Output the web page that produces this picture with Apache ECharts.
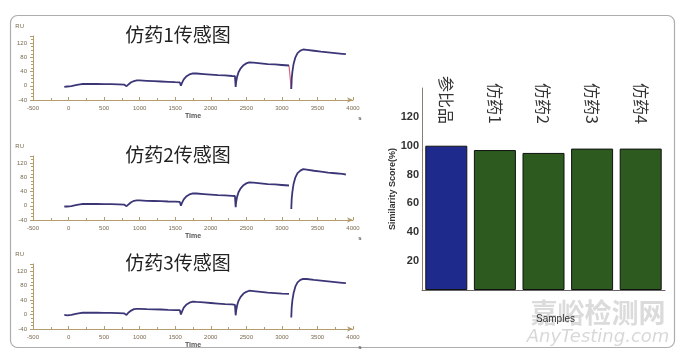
<!DOCTYPE html>
<html>
<head>
<meta charset="utf-8">
<style>
  html, body { margin: 0; padding: 0; background: #fff; }
  #chart { width: 680px; height: 354px; }
</style>
<script src="https://cdn.jsdelivr.net/npm/echarts@6/dist/echarts.min.js"></script>
</head>
<body>
<div id="chart"></div>
<script>
// sensorgram traces: [time (s), response (RU)]
// '-' breaks the line where the trace is not drawn
var trace1 = [
  [-60, -3], [-20, -2], [0, -2], [40, -1], [100, 2], [160, 4], [200, 5], [300, 5], [400, 5],
  [500, 4.5], [600, 4.5], [700, 4], [780, 3.5], [800, 0], [815, -1], [840, 4], [880, 10],
  [920, 13], [960, 15], [1000, 15], [1100, 14], [1200, 13], [1300, 12], [1400, 11],
  [1500, 10], [1565, 9.5], [1580, 0], [1595, 8], [1620, 18], [1660, 27], [1700, 32],
  [1750, 35], [1800, 34.5], [1900, 33], [2000, 31.5], [2100, 30], [2200, 29], [2300, 27.5],
  [2340, 27], [2350, -3], [2358, 12], [2370, 25], [2390, 38], [2420, 49], [2460, 58],
  [2500, 63], [2540, 66], [2600, 65], [2700, 63], [2800, 61], [2900, 60], [3000, 58.5],
  [3100, 57], [3120, '-'], [3132, -9], [3138, 20], [3148, 40], [3165, 62], [3190, 80],
  [3220, 92], [3260, 99], [3300, 102], [3350, 101], [3450, 98.5], [3550, 96], [3650, 94],
  [3750, 92], [3850, 90], [3900, 89]
];
var trace1Red = [[3100, 57], [3125, 56], [3132, -9], [3136, 10]];
var trace2 = [
  [-60, -2], [-20, -2], [0, -2], [40, -1], [100, 2], [160, 4], [200, 5], [300, 5], [400, 5],
  [500, 4.5], [600, 4.5], [700, 4], [780, 3.5], [800, 0], [815, -1], [840, 4], [880, 10],
  [920, 14], [960, 15], [1000, 15], [1100, 14], [1200, 13.5], [1300, 13], [1400, 12],
  [1500, 11.5], [1565, 11], [1580, 0], [1595, 8], [1620, 18], [1660, 27], [1700, 32],
  [1750, 35], [1800, 34.5], [1900, 33], [2000, 31.5], [2100, 30], [2200, 29], [2300, 28],
  [2340, 27.5], [2350, -4], [2358, 12], [2370, 25], [2390, 38], [2420, 49], [2460, 58],
  [2500, 63], [2540, 66], [2600, 65], [2700, 63], [2800, 61], [2900, 60], [3000, 58.5],
  [3100, 57], [3120, '-'], [3132, -9], [3138, 20], [3148, 40], [3165, 62], [3190, 80],
  [3220, 92], [3260, 99], [3300, 103], [3350, 101.5], [3450, 98.5], [3550, 96], [3650, 93.5],
  [3750, 91.5], [3850, 89.5], [3900, 88]
];
var trace3 = [
  [-60, -1], [-20, -2], [0, -2], [40, -1], [100, 2], [160, 4], [200, 5], [300, 5], [400, 5],
  [500, 4.5], [600, 4.5], [700, 4], [780, 3.5], [800, 0], [815, -1], [840, 5], [880, 11],
  [920, 15], [960, 16], [1000, 16], [1100, 15], [1200, 14.5], [1300, 14], [1400, 13],
  [1500, 12.5], [1565, 12], [1580, 0], [1595, 8], [1620, 19], [1660, 28], [1700, 33],
  [1750, 36], [1800, 35], [1900, 33.5], [2000, 32], [2100, 30.5], [2200, 29], [2300, 28],
  [2340, 27], [2350, -2], [2358, 12], [2370, 25], [2390, 38], [2420, 49], [2460, 58],
  [2500, 63], [2540, 66], [2600, 65], [2700, 63], [2800, 61], [2900, 59.5], [3000, 58],
  [3100, 57], [3120, '-'], [3132, -8], [3138, 20], [3148, 40], [3165, 60], [3190, 78],
  [3220, 89], [3260, 96], [3300, 99], [3350, 98.5], [3450, 96], [3550, 94], [3650, 92],
  [3750, 90], [3850, 88], [3900, 87]
];
var sensorTitles = ['仿药1传感图', '仿药2传感图', '仿药3传感图'];

// similarity bar chart
var samples = ['参比品', '仿药1', '仿药2', '仿药3', '仿药4'];
var scores = [100, 97, 95, 98, 98];

var axisColor = '#b39d6d';
var tickText = '#7a6a52';
var sensorGrids = [
  { left: 33, top: 36, width: 320, height: 64 },
  { left: 33, top: 156, width: 320, height: 64 },
  { left: 33, top: 264, width: 320, height: 65 }
];

var chart = echarts.init(document.getElementById('chart'));

var grids = sensorGrids.concat([{ left: 422, top: 88, width: 243, height: 202 }]);
var xAxes = [];
var yAxes = [];
var graphics = [];

sensorGrids.forEach(function (g, i) {
  xAxes.push({
    type: 'value', gridIndex: i, min: -500, max: 4000, interval: 500,
    name: 'Time', nameLocation: 'middle', nameGap: 13,
    nameTextStyle: { fontSize: 7, fontWeight: 'bold', color: '#555', fontFamily: 'Liberation Sans' },
    axisLine: { onZero: false, lineStyle: { color: axisColor }, symbol: ['none', 'arrow'], symbolSize: [4, 6] },
    axisTick: { inside: true, length: 3, lineStyle: { color: axisColor } },
    minorTick: { show: true, splitNumber: 2, length: 2, lineStyle: { color: axisColor } },
    axisLabel: {
      fontSize: 6, color: tickText, margin: 5, fontFamily: 'Liberation Sans',
      formatter: function (v) { return String(v); }
    },
    splitLine: { show: false }
  });
  yAxes.push({
    type: 'value', gridIndex: i, min: -40, max: 140, interval: 40,
    name: 'RU', nameLocation: 'end', nameGap: 7,
    nameTextStyle: { fontSize: 6, color: tickText, align: 'right', padding: [0, 9, 0, 0] },
    axisLine: { show: true, onZero: false, lineStyle: { color: axisColor } },
    axisTick: { show: true, inside: false, length: 3, lineStyle: { color: axisColor } },
    minorTick: { show: true, splitNumber: 4, length: 2, lineStyle: { color: axisColor } },
    axisLabel: { fontSize: 6, color: tickText, margin: 6, showMaxLabel: false, fontFamily: 'Liberation Sans' },
    splitLine: { show: false }
  });
  graphics.push({
    type: 'text', x: 178, y: g.top - 1,
    style: { text: sensorTitles[i], font: '19px "Noto Sans CJK SC"', fill: '#222', textAlign: 'center', textVerticalAlign: 'middle' }
  });
  graphics.push({
    type: 'text', x: 360, y: g.top + g.height + 18,
    style: { text: 's', font: 'bold 6px "Liberation Sans"', fill: '#555', textAlign: 'center', textVerticalAlign: 'middle' }
  });
});

// bar chart axes
xAxes.push({
  type: 'category', gridIndex: 3, data: samples, position: 'bottom',
  name: 'Samples', nameLocation: 'middle', nameGap: 24,
  nameTextStyle: { fontSize: 10, color: '#333', fontFamily: 'Liberation Sans', padding: [0, 0, 0, 24] },
  axisLine: { lineStyle: { color: '#666' } },
  axisTick: { alignWithLabel: true, length: 3, lineStyle: { color: '#666' } },
  axisLabel: { show: false }
});
xAxes.push({
  type: 'category', gridIndex: 3, data: samples, position: 'top', offset: -40,
  axisLine: { show: false }, axisTick: { show: false },
  axisLabel: { rotate: 90, fontSize: 16, color: '#333', margin: 4, fontFamily: 'Noto Sans CJK SC' }
});
yAxes.push({
  type: 'value', gridIndex: 3, min: 0, max: 140, interval: 20,
  name: 'Similarity Score(%)', nameLocation: 'middle', nameGap: 24,
  nameTextStyle: { fontSize: 9, fontWeight: 'bold', color: '#333', fontFamily: 'Liberation Sans' },
  axisLine: { show: true, lineStyle: { color: '#8a7e6e' } },
  axisTick: { show: false },
  axisLabel: { fontSize: 11, fontWeight: 'bold', color: '#333', margin: 3, showMinLabel: false, showMaxLabel: false, fontFamily: 'Liberation Sans' },
  splitLine: { show: false }
});

// outer frame and watermark
graphics.unshift({
  type: 'rect', shape: { x: 10.5, y: 15.5, width: 664, height: 332, r: 7 },
  style: { fill: 'none', stroke: '#adadad', lineWidth: 1.2 }, z: -10
});
graphics.push({
  type: 'text', x: 598, y: 313,
  style: { text: '嘉峪检测网', font: 'bold 27px "Noto Sans CJK SC"', fill: 'rgba(195,195,195,0.6)', textAlign: 'center', textVerticalAlign: 'middle' }
});
graphics.push({
  type: 'text', x: 598, y: 337,
  style: { text: 'AnyTesting.com', font: 'italic 18px "DejaVu Sans"', fill: 'rgba(195,195,195,0.65)', textAlign: 'center', textVerticalAlign: 'middle' }
});

function traceSeries(data, idx, color, width) {
  return {
    type: 'line', xAxisIndex: idx, yAxisIndex: idx, data: data,
    showSymbol: false, connectNulls: false, animation: false,
    lineStyle: { color: color, width: width }
  };
}

var series = [
  traceSeries(trace1Red, 0, '#e0607a', 1.2),
  traceSeries(trace1, 0, '#3b3777', 1.8),
  traceSeries(trace2, 1, '#3b3777', 1.8),
  traceSeries(trace3, 2, '#3b3777', 1.8),
  {
    type: 'bar', xAxisIndex: 3, yAxisIndex: 3, data: scores, barWidth: 42, animation: false,
    itemStyle: {
      color: function (p) { return p.dataIndex === 0 ? '#1f2b8c' : '#2c5a1f'; },
      borderColor: '#111',
      borderWidth: 1
    }
  }
];

chart.setOption({
  backgroundColor: '#fff',
  grid: grids,
  xAxis: xAxes,
  yAxis: yAxes,
  series: series,
  graphic: graphics
});
</script>
</body>
</html>
